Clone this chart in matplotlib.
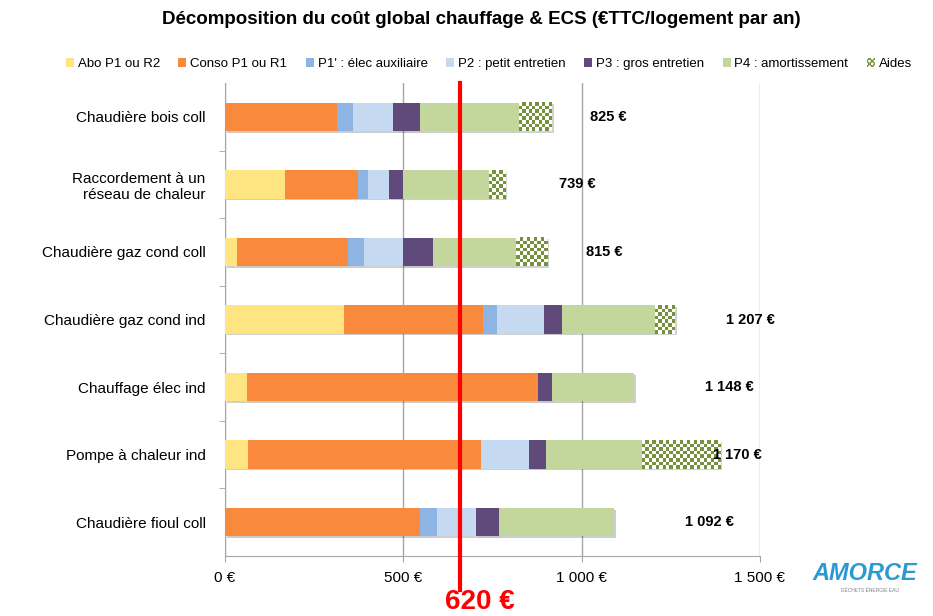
import numpy as np
import matplotlib
matplotlib.use('Agg')
import matplotlib.pyplot as plt
import matplotlib.patheffects as pe
from matplotlib.patches import Patch
from matplotlib.colors import ListedColormap
from matplotlib.transforms import blended_transform_factory

plt.rcParams['font.family'] = ['Liberation Sans', 'DejaVu Sans']

# Données (€TTC/logement par an)
categories = ["Chaudière bois coll", "Raccordement à un\nréseau de chaleur",
              "Chaudière gaz cond coll", "Chaudière gaz cond ind",
              "Chauffage élec ind", "Pompe à chaleur ind", "Chaudière fioul coll"]
abo = [0, 169, 33, 333, 62, 64, 0]
conso = [313, 203, 312, 389, 816, 655, 548]
p1_aux = [45, 28, 45, 40, 0, 0, 46]
p2 = [112, 61, 108, 131, 0, 132, 111]
p3 = [77, 38, 84, 51, 39, 50, 63]
p4 = [278, 240, 233, 263, 231, 269, 324]
aides = [92, 47, 88, 55, 0, 220, 0]
totaux = [825, 739, 815, 1207, 1148, 1170, 1092]

noms_series = ["Abo P1 ou R2", "Conso P1 ou R1", "P1' : élec auxiliaire",
               "P2 : petit entretien", "P3 : gros entretien", "P4 : amortissement", "Aides"]
xticks = [0, 500, 1000, 1500]
seuil = 660            # position de la ligne rouge
seuil_txt = "620 €"
decalage_etiquette = 197

couleurs = ['#FEE582', '#F8893D', '#8DB4E2', '#C5D9F1', '#604A7B', '#C3D69B']
vert_aides = '#76923C'
gris = '#A6A6A6'

fig = plt.figure(figsize=(9.33, 6.16), dpi=100)
ax = fig.add_axes([225/933, 1-556/616, 535/933, 473/616])

n = len(categories)
y = np.arange(n)
hauteur = 0.42
ombre = [pe.SimplePatchShadow(offset=(1.2, -1.2), alpha=0.25), pe.Normal()]

gauche = np.zeros(n)
for valeurs, couleur in zip([abo, conso, p1_aux, p2, p3, p4], couleurs):
    ax.barh(y, valeurs, left=gauche, height=hauteur, color=couleur,
            zorder=3, path_effects=ombre)
    gauche += np.array(valeurs)

ax.set_xlim(0, 1500)
ax.set_ylim(n - 0.5, -0.5)

# Aides : damier vert / blanc
barres = ax.barh(y, aides, left=gauche, height=hauteur, color='white',
                 zorder=3, path_effects=ombre)
px_x = ax.get_position().width * fig.get_figwidth() * fig.dpi / 1500
px_y = ax.get_position().height * fig.get_figheight() * fig.dpi / n
case = 3.4
for b in barres:
    w = b.get_width()
    if w <= 0:
        continue
    x0 = b.get_x()
    y0 = b.get_y()
    nx = max(1, int(round(w * px_x / case)))
    ny = max(1, int(round(hauteur * px_y / case)))
    damier = np.add.outer(np.arange(ny), np.arange(nx)) % 2
    ax.imshow(damier, cmap=ListedColormap(['white', vert_aides]),
              extent=[x0, x0 + w, y0 + hauteur, y0], aspect='auto',
              interpolation='nearest', zorder=3.5, clip_path=b)

ax.set_xlim(0, 1500)
ax.set_ylim(n - 0.5, -0.5)

# Étiquettes des totaux
for yi, t in zip(y, totaux):
    ax.text(t + decalage_etiquette, yi, f"{t:,} €".replace(',', ' '),
            va='center', ha='left', weight='bold', fontsize=10.5, zorder=5)

# Axes
ax.set_xticks(xticks)
ax.set_xticklabels([f"{v:,} €".replace(',', ' ') for v in xticks], fontsize=11)
ax.set_yticks(y)
ax.set_yticklabels(categories, fontsize=11)
ax.set_yticks(np.arange(0.5, n - 1, 1), minor=True)
ax.tick_params(axis='y', which='major', length=0, pad=14)
ax.tick_params(axis='y', which='minor', length=4, color=gris)
ax.tick_params(axis='x', length=4, color=gris, pad=7)
ax.grid(axis='x', color=gris, lw=1, zorder=0)
for s in ['top', 'right']:
    ax.spines[s].set_visible(False)
for s in ['left', 'bottom']:
    ax.spines[s].set_color(gris)

# Ligne rouge
trans = blended_transform_factory(ax.transData, ax.transAxes)
ax.plot([seuil, seuil], [1.0, -0.072], transform=trans, color='red', lw=3,
        clip_on=False, zorder=6)
ax.annotate(seuil_txt, xy=(seuil, -0.072), xycoords=trans, xytext=(14, -8.5),
            textcoords='offset points', ha='center', va='center', color='red',
            weight='bold', fontsize=20, annotation_clip=False)

# Titre et légende
fig.text(0.516, 0.969, "Décomposition du coût global chauffage & ECS (€TTC/logement par an)",
         ha='center', va='center', weight='bold', fontsize=13.5)
handles = [Patch(facecolor=c) for c in couleurs]
handles.append(Patch(facecolor='white', edgecolor=vert_aides, hatch='xxxxxx', lw=0))
fig.legend(handles, noms_series, loc='center', bbox_to_anchor=(0.524, 0.896), ncol=7,
           frameon=False, fontsize=9.5, handlelength=0.6, handleheight=0.6,
           handletextpad=0.3, columnspacing=1.4)

# Logo
fig.text(865/933, 1-573/616, "AMORCE", color='#2B9AD3', weight='bold', style='italic',
         fontsize=17, ha='center', va='center')
fig.text(870/933, 1-591/616, "DÉCHETS ÉNERGIE EAU", color='gray', fontsize=3.5,
         ha='center', va='center')

fig.savefig('out.png', dpi=100)
